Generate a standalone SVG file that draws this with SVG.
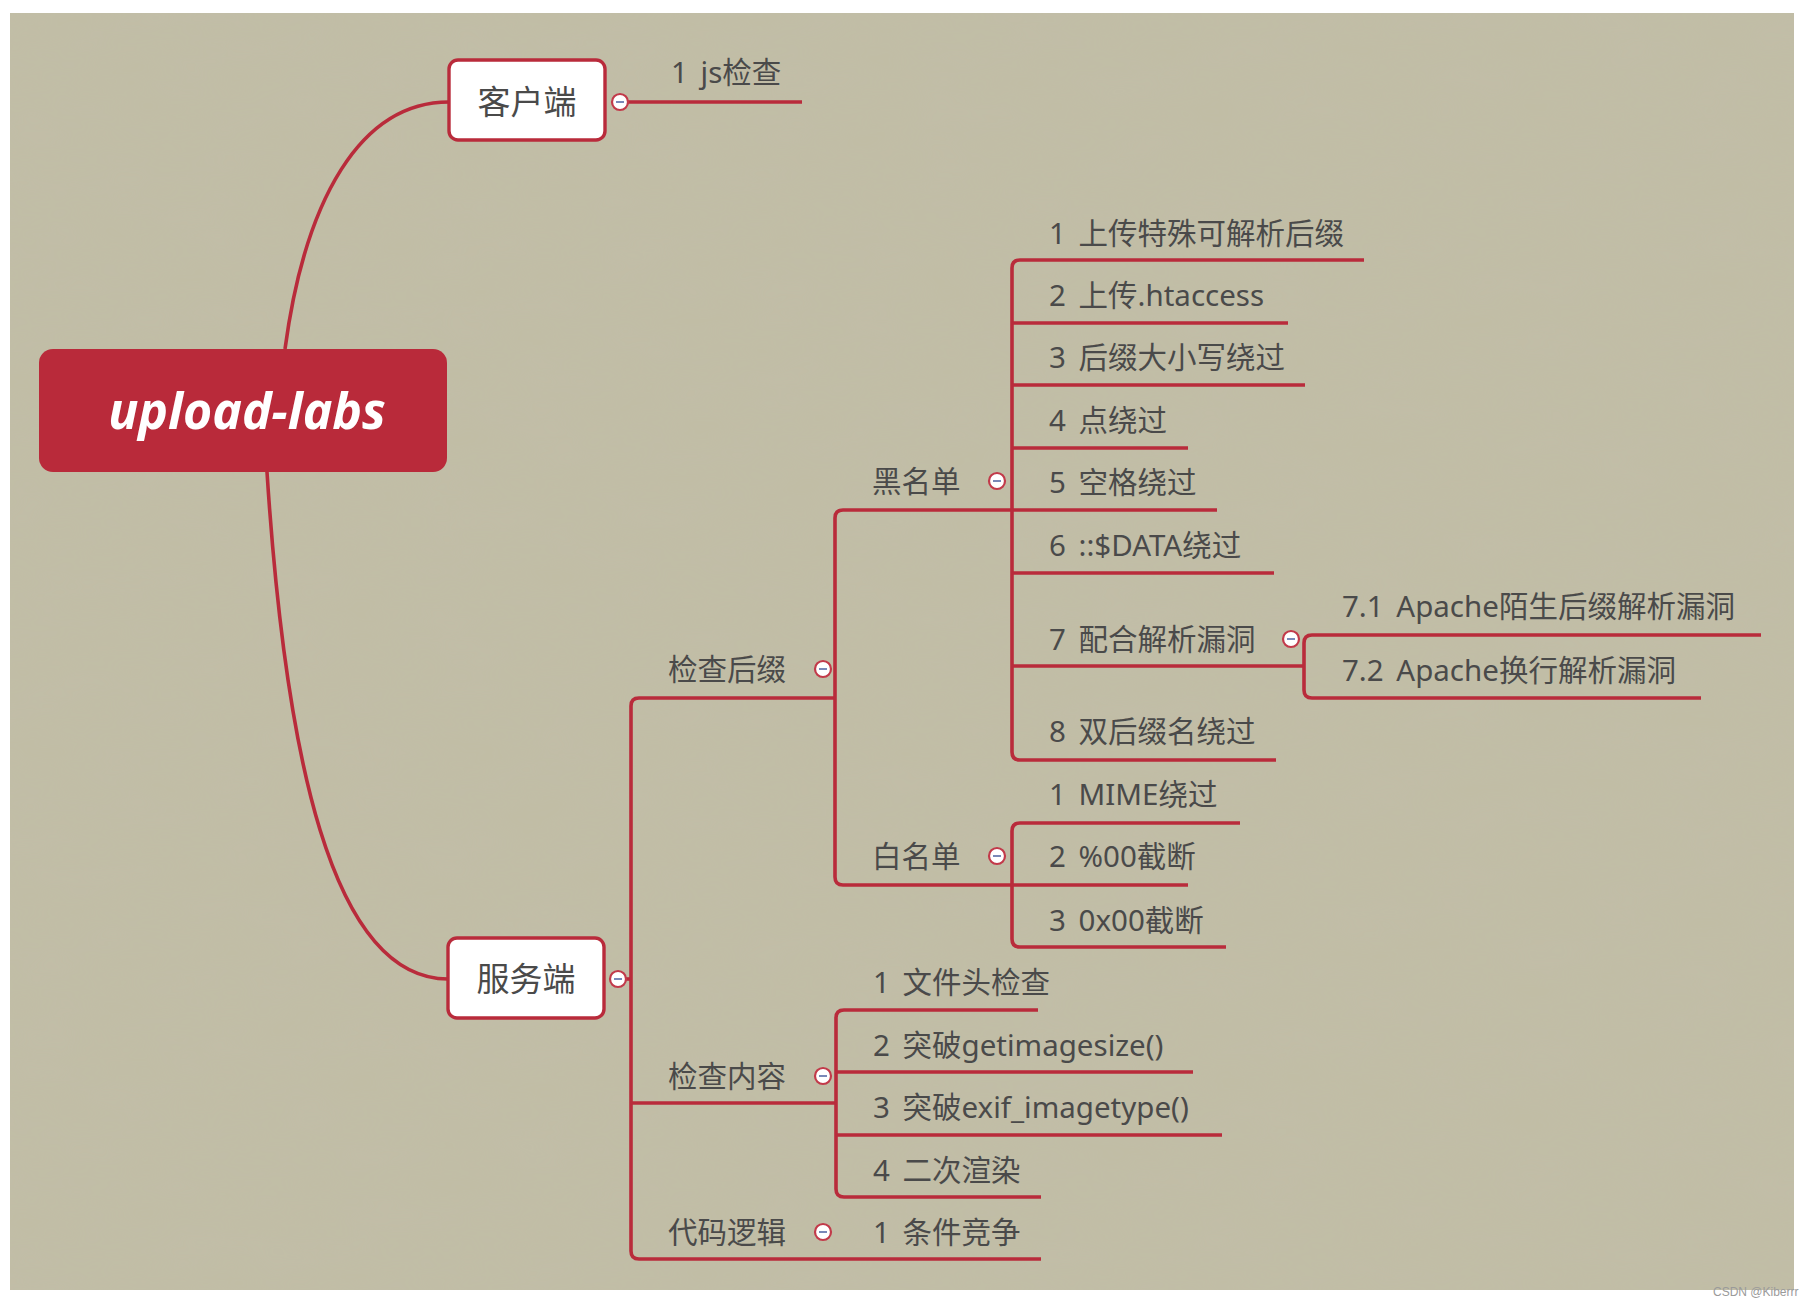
<svg xmlns="http://www.w3.org/2000/svg" width="1814" height="1306" viewBox="0 0 1814 1306">
<defs>
<filter id="tex" x="0" y="0" width="100%" height="100%">
<feTurbulence type="fractalNoise" baseFrequency="0.012 0.03" numOctaves="3" seed="4" result="n"/>
<feColorMatrix in="n" type="matrix" values="0 0 0 0 0.55  0 0 0 0 0.53  0 0 0 0 0.45  0 0 0 0.18 0"/>
<feComposite in2="SourceGraphic" operator="in"/>
</filter>
<g id="minus">
<circle r="8" fill="#ffffff" stroke="#c23a4a" stroke-width="2.2"/>
<path d="M-4,0 H4" stroke="#6a7bb0" stroke-width="1.8"/>
</g>
</defs>
<style>
.ln{fill:none;stroke:#b92b3b;stroke-width:3.6;stroke-linecap:butt}
.t{font-family:"Noto Sans","Noto Sans CJK SC",sans-serif;font-size:29.5px;fill:#4a4a4a;word-spacing:5px}
.m{font-family:"Noto Sans","Noto Sans CJK SC",sans-serif;font-size:33px;fill:#4a4a4a}
.box{fill:#ffffff;stroke:#b92b3b;stroke-width:3.4}
</style>
<rect x="0" y="0" width="1814" height="1306" fill="#ffffff"/>
<rect x="10" y="13" width="1784" height="1277" fill="#c1bda5"/>
<rect x="10" y="13" width="1784" height="1277" fill="#c1bda5" filter="url(#tex)"/>
<text x="1713" y="1296" font-family="Liberation Sans, Arial, sans-serif" font-size="12" fill="#9a9a9a">CSDN @Kiberrr</text>

<g id="connectors" class="ln">
<path d="M285,349 C305,200 360,102 449,102"/>
<path d="M267,472 C285,750 330,979 448,979"/>
<path d="M628,102 H802"/>
<path d="M626,979 H631"/>
<path d="M835,698 H639 Q631,698 631,706 V1251 Q631,1259 639,1259 H1041"/>
<path d="M631,1103 H836"/>
<path d="M1217,510 H843 Q835,510 835,518 V877 Q835,885 843,885 H1188"/>
<path d="M1364,260 H1020 Q1012,260 1012,268 V752 Q1012,760 1020,760 H1276"/>
<path d="M1012,323 H1288 M1012,385 H1305 M1012,448 H1188 M1012,573 H1274 M1012,666 H1304"/>
<path d="M1761,635 H1312 Q1304,635 1304,643 V690 Q1304,698 1312,698 H1701"/>
<path d="M1240,823 H1020 Q1012,823 1012,831 V939 Q1012,947 1020,947 H1226"/>
<path d="M1038,1010 H844 Q836,1010 836,1018 V1189 Q836,1197 844,1197 H1041"/>
<path d="M836,1072 H1193 M836,1135 H1222"/>
</g>

<g id="root">
<rect x="39" y="349" width="408" height="123" rx="14" fill="#b92a3a"/>
<text x="247" y="429" text-anchor="middle" font-family="Noto Sans, Liberation Sans, sans-serif" font-size="50" font-weight="bold" font-style="italic" fill="#ffffff">upload-labs</text>
</g>

<g id="client">
<rect class="box" x="449" y="60" width="156" height="80" rx="9"/>
<text class="m" x="527" y="114" text-anchor="middle">客户端</text>
<use href="#minus" x="620" y="102"/>
</g>
<g id="client-js"><text class="t" x="671" y="83">1 js检查</text></g>

<g id="server">
<rect class="box" x="448" y="938" width="156" height="80" rx="9"/>
<text class="m" x="526" y="991" text-anchor="middle">服务端</text>
<use href="#minus" x="618" y="979"/>
</g>

<g id="check-suffix"><text class="t" x="668" y="680">检查后缀</text><use href="#minus" x="823" y="669"/></g>
<g id="check-content"><text class="t" x="668" y="1087">检查内容</text><use href="#minus" x="823" y="1076"/></g>
<g id="code-logic"><text class="t" x="668" y="1243">代码逻辑</text><use href="#minus" x="823" y="1232"/></g>

<g id="blacklist"><text class="t" x="872" y="492">黑名单</text><use href="#minus" x="997" y="481"/></g>
<g id="whitelist"><text class="t" x="872" y="867">白名单</text><use href="#minus" x="997" y="856"/></g>

<g id="b1"><text class="t" x="1049" y="244">1 上传特殊可解析后缀</text></g>
<g id="b2"><text class="t" x="1049" y="306">2 上传.htaccess</text></g>
<g id="b3"><text class="t" x="1049" y="368">3 后缀大小写绕过</text></g>
<g id="b4"><text class="t" x="1049" y="431">4 点绕过</text></g>
<g id="b5"><text class="t" x="1049" y="493">5 空格绕过</text></g>
<g id="b6"><text class="t" x="1049" y="556">6 ::$DATA绕过</text></g>
<g id="b7"><text class="t" x="1049" y="650">7 配合解析漏洞</text><use href="#minus" x="1291" y="639"/></g>
<g id="b71"><text class="t" x="1342" y="617">7.1 Apache陌生后缀解析漏洞</text></g>
<g id="b72"><text class="t" x="1342" y="681">7.2 Apache换行解析漏洞</text></g>
<g id="b8"><text class="t" x="1049" y="742">8 双后缀名绕过</text></g>

<g id="w1"><text class="t" x="1049" y="805">1 MIME绕过</text></g>
<g id="w2"><text class="t" x="1049" y="867">2 %00截断</text></g>
<g id="w3"><text class="t" x="1049" y="931">3 0x00截断</text></g>

<g id="c1"><text class="t" x="873" y="993">1 文件头检查</text></g>
<g id="c2"><text class="t" x="873" y="1056">2 突破getimagesize()</text></g>
<g id="c3"><text class="t" x="873" y="1118">3 突破exif_imagetype()</text></g>
<g id="c4"><text class="t" x="873" y="1181">4 二次渲染</text></g>

<g id="l1"><text class="t" x="873" y="1243">1 条件竞争</text></g>
</svg>
